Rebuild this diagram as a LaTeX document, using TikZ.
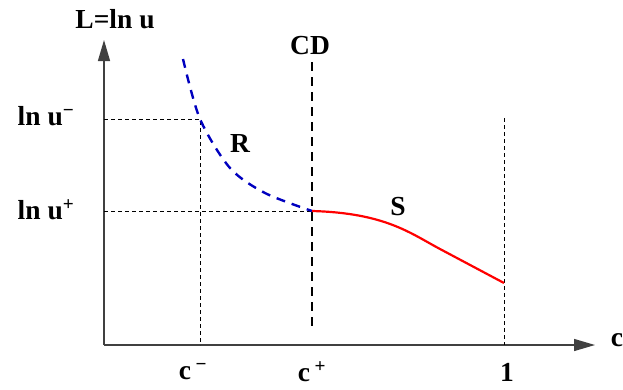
\documentclass[tikz,border=0pt]{standalone}
\usepackage{fontspec}
\setmainfont{Liberation Serif}
\usetikzlibrary{arrows.meta}

\begin{document}
\begin{tikzpicture}[
  x=1pt, y=-1pt,
  font=\fontsize{27.5}{31}\selectfont\bfseries,
  >={Triangle[length=21pt, width=12pt]},
  axis/.style={->, line width=1.3pt, draw=black!75},
  guide/.style={line width=0.8pt, dash pattern=on 4pt off 3pt},
  cdline/.style={line width=2.4pt, dash pattern=on 9pt off 6pt},
  rare/.style={line width=2.4pt, draw=blue!75!black, dash pattern=on 9pt off 7pt},
  shock/.style={line width=2.2pt, draw=red},
  lab/.style={inner sep=0pt},
]
\useasboundingbox (0,0) rectangle (623,389);

% ---------- Axes ----------
\coordinate (O)    at (104,345);
\coordinate (ytip) at (104,40);
\coordinate (xtip) at (595,345);
\draw[axis] (O) -- (ytip);
\draw[axis] (O) -- (xtip);
\node[lab] (ylab) at (115,19)  {L=ln u};
\node[lab] (xlab) at (617,340) {c};

% ---------- States ----------
\coordinate (um)    at (200,119);
\coordinate (cm)    at (200,345);
\coordinate (up)    at (312,211);
\coordinate (onetop) at (504,118);
\coordinate (one)   at (504,345);
\coordinate (send)  at (504,283);
\coordinate (rtop)  at (183,59);

\draw[guide] (O |- um) -- (um) -- (cm);
\draw[guide] (O |- up) -- (up);
\draw[guide] (onetop) -- (one);

% contact discontinuity
\coordinate (cdtop) at (312,62);
\coordinate (cdbot) at (312,328);
\draw[cdline] (cdtop) -- (cdbot);
\node[lab] (cdlab) at (310,46) {CD};

% rarefaction and shock curves
\draw[rare] plot[smooth] coordinates {(rtop) (um) (230,168) (265,193) (up)};
\draw[shock] (up) .. controls (385,213) and (410,233) .. (440,249) -- (send);
\node[lab] (rlab) at (240,143) {R};
\node[lab] (slab) at (398,207) {S};

% ---------- Tick labels ----------
\node[lab] (lum) at (46,116) {ln u\textsuperscript{−}};
\node[lab] (lup) at (46,210) {ln u\textsuperscript{+}};
\node[lab] (tcm) at (193,372) {c\,\textsuperscript{−}};
\node[lab] (tcp) at (312,372) {c\,\textsuperscript{+}};
\node[lab] (tone) at (507,372) {1};

\end{tikzpicture}
\end{document}
